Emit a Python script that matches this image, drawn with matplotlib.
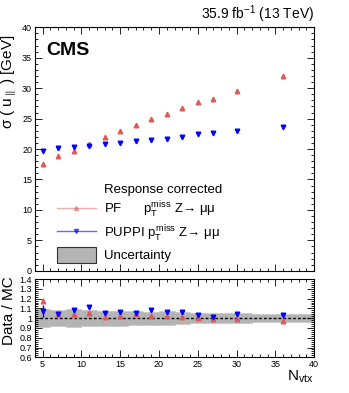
import numpy as np
import matplotlib
matplotlib.use("Agg")
import matplotlib.pyplot as plt
from matplotlib.lines import Line2D
from matplotlib.patches import Patch
from matplotlib.ticker import MultipleLocator

plt.rcParams['font.family'] = ['Liberation Sans', 'DejaVu Sans']
plt.rcParams['mathtext.fontset'] = 'custom'
plt.rcParams['mathtext.rm'] = 'Liberation Sans'
plt.rcParams['mathtext.it'] = 'Liberation Sans'

# --- data ---
nvtx = [5, 7, 9, 11, 13, 15, 17, 19, 21, 23, 25, 27, 30, 36]
pf_sigma = [17.6, 18.8, 19.7, 20.9, 21.9, 23.0, 23.9, 24.9, 25.7, 26.7, 27.8, 28.3, 29.6, 32.0]
puppi_sigma = [19.7, 20.1, 20.3, 20.5, 20.75, 21.0, 21.3, 21.45, 21.7, 22.0, 22.4, 22.6, 22.9, 23.6]

pf_ratio = [1.18, 1.04, 1.045, 1.055, 1.01, 1.025, 1.045, 1.02, 1.02, 1.015, 1.0, 0.99, 0.995, 0.97]
pf_ratio_err = [0.03, 0.01, 0.012, 0.012, 0.01, 0.01, 0.01, 0.01, 0.01, 0.01, 0.01, 0.012, 0.012, 0.015]
puppi_ratio = [1.07, 1.04, 1.08, 1.11, 1.05, 1.06, 1.05, 1.085, 1.06, 1.06, 1.03, 1.015, 1.045, 1.035]
puppi_ratio_err = [0.06, 0.01, 0.012, 0.012, 0.01, 0.01, 0.01, 0.01, 0.01, 0.01, 0.01, 0.012, 0.012, 0.015]

# uncertainty band (bin edges and half widths)
band_edges = [4, 6, 8, 10, 12, 14, 16, 18, 20, 22, 24, 26, 28, 32, 40]
band_halfwidth = [0.095, 0.085, 0.09, 0.08, 0.075, 0.075, 0.07, 0.065, 0.07, 0.06, 0.05, 0.05, 0.05, 0.04]

PF_COLOR = '#dc5a5a'
PUPPI_COLOR = '#0000ff'
BAND_COLOR = '#b4b4b4'

fig = plt.figure(figsize=(3.49, 3.93), dpi=100)
ax = fig.add_axes([0.100, 0.311, 0.800, 0.6195])
rax = fig.add_axes([0.100, 0.0908, 0.800, 0.1992])


def root_style(a):
    a.tick_params(which='both', direction='in', top=True, right=True, labelsize=6.5, width=0.6, pad=2)
    a.tick_params(which='major', length=5)
    a.tick_params(which='minor', length=2.5)
    for s in a.spines.values():
        s.set_linewidth(0.8)


# --- top panel ---
ax.plot(nvtx, pf_sigma, linestyle='none', marker='^', ms=3.3, color=PF_COLOR)
ax.plot(nvtx, puppi_sigma, linestyle='none', marker='v', ms=3.3, color=PUPPI_COLOR)
ax.set_xlim(4, 40)
ax.set_ylim(0, 40)
ax.xaxis.set_major_locator(MultipleLocator(5))
ax.xaxis.set_minor_locator(MultipleLocator(1))
ax.yaxis.set_major_locator(MultipleLocator(5))
ax.yaxis.set_minor_locator(MultipleLocator(1))
root_style(ax)
ax.tick_params(labelbottom=False)
ax.set_ylabel(r'$\sigma$ ( u$_{\parallel}$ ) [GeV]', fontsize=11, loc='top')
ax.yaxis.set_label_coords(-0.058, 0.97)

ax.text(0.04, 0.94, 'CMS', transform=ax.transAxes, fontsize=14, fontweight='bold', va='top')
ax.text(1.0, 1.01, r'35.9 fb$^{-1}$ (13 TeV)', transform=ax.transAxes, fontsize=10, ha='right', va='bottom')

handles = [
    Line2D([], [], linestyle='none'),
    Line2D([], [], color=PF_COLOR, lw=1, alpha=0.5, marker='^', ms=3, markerfacecolor=PF_COLOR),
    Line2D([], [], color=PUPPI_COLOR, lw=1, alpha=0.6, marker='v', ms=3, markerfacecolor=PUPPI_COLOR),
    Patch(facecolor=BAND_COLOR, edgecolor='#333333', linewidth=0.8),
]
labels = [
    'Response corrected',
    r'PF      $p_{T}^{miss}$ Z→ μμ',
    r'PUPPI $p_{T}^{miss}$ Z→ μμ',
    'Uncertainty',
]
leg = ax.legend(handles, labels, loc='lower left', bbox_to_anchor=(0.035, -0.015), frameon=False,
                fontsize=9.5, handlelength=3.0, handleheight=1.4, labelspacing=0.28, handletextpad=0.6)

# --- ratio panel ---
lefts = band_edges[:-1]
widths = np.diff(band_edges)
hw = np.array(band_halfwidth)
rax.bar(lefts, 2 * hw, width=widths, bottom=1 - hw, align='edge', color=BAND_COLOR,
        edgecolor='#9a9a9a', linewidth=0.4, linestyle=':')
rax.axhline(1.0, color='black', linestyle=(0, (2, 1.5)), lw=1.0)
rax.errorbar(nvtx, pf_ratio, yerr=pf_ratio_err, fmt='^', ms=3.3, color=PF_COLOR, elinewidth=1, capsize=0)
rax.errorbar(nvtx, puppi_ratio, yerr=puppi_ratio_err, fmt='v', ms=3.3, color=PUPPI_COLOR, elinewidth=1, capsize=0)
rax.set_xlim(4, 40)
rax.set_ylim(0.6, 1.4)
rax.xaxis.set_minor_locator(MultipleLocator(1))
rax.yaxis.set_minor_locator(MultipleLocator(0.02))
root_style(rax)
rax.set_yticks(np.arange(0.6, 1.41, 0.1))
rax.set_yticklabels(['0.6', '0.7', '0.8', '0.9', '1', '1.1', '1.2', '1.3', '1.4'])
rax.set_xticks([5, 10, 15, 20, 25, 30, 35, 40])
rax.set_ylabel('Data / MC', fontsize=11)
rax.yaxis.set_label_coords(-0.068, 0.6)
rax.set_xlabel(r'N$_{\mathrm{vtx}}$', fontsize=11, loc='right')
rax.xaxis.set_label_coords(1.0, -0.15)

fig.savefig('out.png', dpi=100)
